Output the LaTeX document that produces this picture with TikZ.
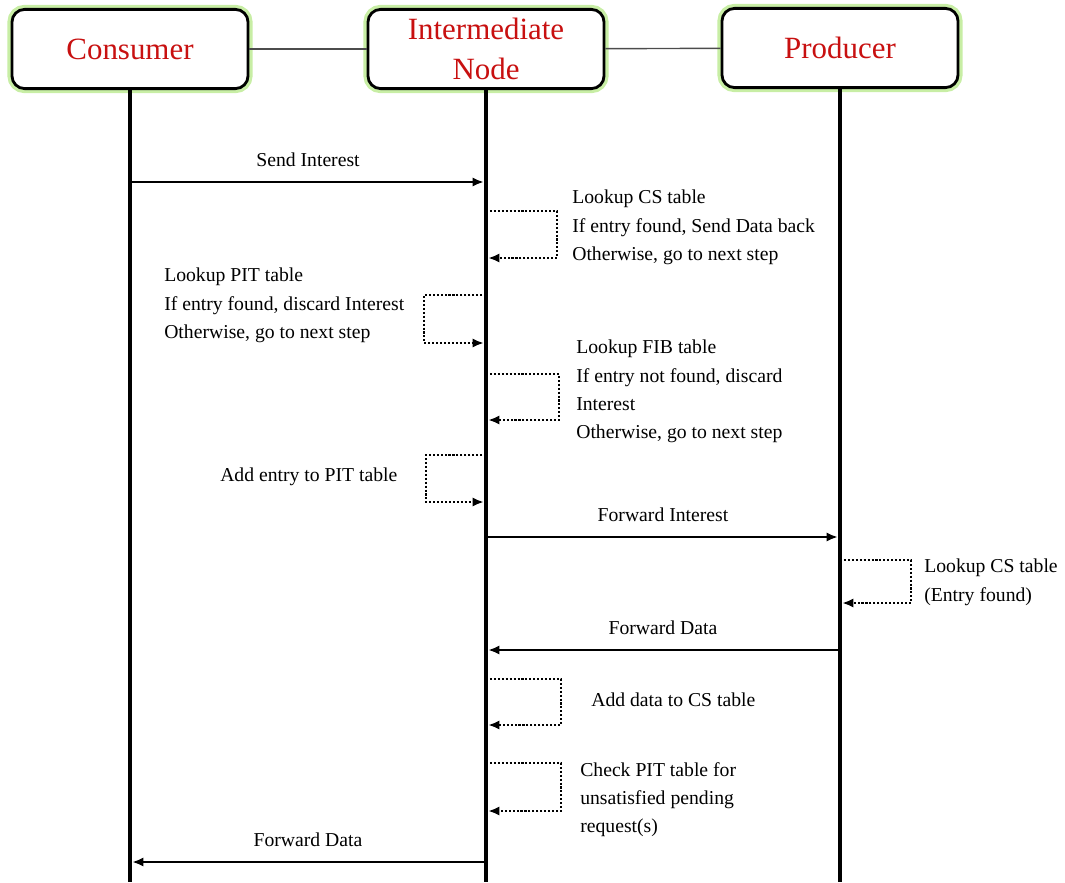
\documentclass[tikz,border=0pt]{standalone}
\usepackage{fontspec}
\setmainfont{Liberation Serif}
\usetikzlibrary{arrows.meta,positioning}
\definecolor{titlered}{RGB}{200,16,16}
\definecolor{glow}{RGB}{200,238,165}
\tikzset{
    actor/.style={draw, line width=2pt, rounded corners=9pt, fill=white,
                  minimum width=5.9cm, minimum height=1.98cm, align=center,
                  text=titlered, font=\fontsize{22}{28}\selectfont,
                  preaction={draw=glow, line width=6.5pt}},
    link/.style={draw=black!70, line width=1pt},
    life/.style={line width=2.6pt},
    msg/.style={line width=1.7pt, shorten >=1.5pt, -{Latex[length=8pt,width=6.5pt]}},
    selfloop/.style={line width=1.6pt, dash pattern=on 1.5pt off 1.3pt, shorten >=1.5pt,
                     -{Latex[length=8pt,width=6.5pt]}},
    note/.style={font=\fontsize{14}{20}\selectfont, align=left, inner sep=0pt, anchor=north west},
    msglabel/.style={font=\fontsize{14}{20}\selectfont, inner sep=0pt, above=10pt},
}

\begin{document}
\begin{tikzpicture}[x=0.025cm, y=-0.025cm]
    \useasboundingbox (0,0) rectangle (1065,882);

    % Participants
    \node[actor] (cons) at (130,49) {Consumer};
    \node[actor] (mid) at (486,49) {Intermediate\\Node};
    \node[actor] (prod) at (840,48) {Producer};
    \draw[link] (cons) -- (mid);
    \draw[link] (mid) -- (prod);

    % Lifelines
    \coordinate (consEnd) at (cons |- 0,882);
    \coordinate (midEnd) at (mid |- 0,882);
    \coordinate (prodEnd) at (prod |- 0,882);
    \draw[life] (cons) -- (consEnd);
    \draw[life] (mid) -- (midEnd);
    \draw[life] (prod) -- (prodEnd);

    % Interest from consumer
    \draw[msg] (cons |- 0,182) -- node[msglabel] {Send Interest} (mid |- 0,182);

    % CS lookup
    \draw[selfloop] (mid |- 0,211) -- ++(71,0) -- ++(0,47) -- (mid |- 0,258);
    \node[note] (csNote) at (572,190) {Lookup CS table\\If entry found, Send Data back\\Otherwise, go to next step};

    % PIT lookup
    \draw[selfloop] (mid |- 0,295) -- ++(-62,0) -- ++(0,48) -- (mid |- 0,343);
    \node[note] (pitNote) at (164,268) {Lookup PIT table\\If entry found, discard Interest\\Otherwise, go to next step};

    % FIB lookup
    \draw[selfloop] (mid |- 0,374) -- ++(73,0) -- ++(0,46) -- (mid |- 0,420);
    \node[note] (fibNote) at (576,340) {Lookup FIB table\\If entry not found, discard\\Interest\\Otherwise, go to next step};

    % PIT entry
    \draw[selfloop] (mid |- 0,455) -- ++(-60,0) -- ++(0,47) -- (mid |- 0,502);
    \node[note] (addNote) at (220,468) {Add entry to PIT table};

    \draw[msg] (mid |- 0,537) -- node[msglabel] {Forward Interest} (prod |- 0,537);

    % Producer side
    \draw[selfloop] (prod |- 0,560) -- ++(71,0) -- ++(0,43) -- (prod |- 0,603);
    \node[note] (prodNote) at (924,559) {Lookup CS table\\(Entry found)};

    \draw[msg] (prod |- 0,650) -- node[msglabel] {Forward Data} (mid |- 0,650);

    % Data back at intermediate node
    \draw[selfloop] (mid |- 0,679) -- ++(75,0) -- ++(0,46) -- (mid |- 0,725);
    \node[note] (csAddNote) at (591,693) {Add data to CS table};

    \draw[selfloop] (mid |- 0,763) -- ++(75,0) -- ++(0,48) -- (mid |- 0,811);
    \node[note] (checkNote) at (580,762) {Check PIT table for\\unsatisfied pending\\request(s)};

    \draw[msg] (mid |- 0,862) -- node[msglabel] {Forward Data} (cons |- 0,862);
\end{tikzpicture}
\end{document}
